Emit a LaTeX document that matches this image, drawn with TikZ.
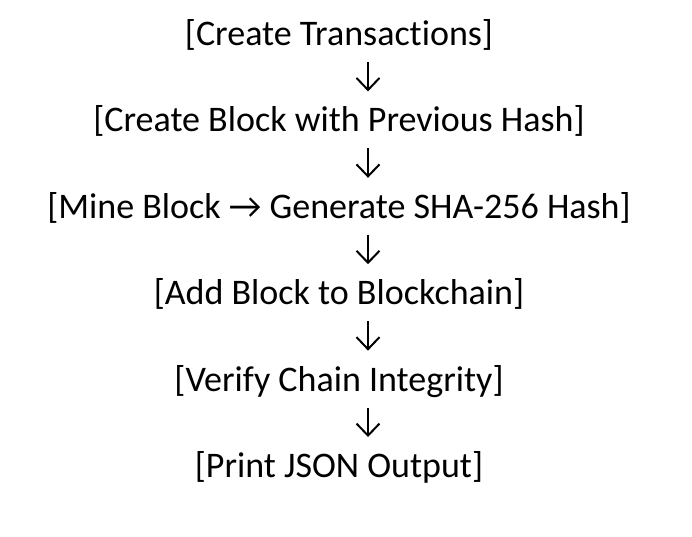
\documentclass[tikz,border=0pt]{standalone}
\usepackage{fontspec}
\setmainfont{Carlito}[RawFeature={-liga;-dlig;-clig;-calt;-hlig}]
\usetikzlibrary{arrows.meta}
\begin{document}
\begin{tikzpicture}[x=1pt,y=1pt,
  stepnode/.style={anchor=base, inner sep=0pt, font=\fontsize{36}{40}\selectfont},
  flow/.style={line width=2pt, -{Straight Barb[length=12pt,width=23pt,line width=2pt]}}]
\useasboundingbox (0,0) rectangle (692,-536);
\node[stepnode] (s1) at (339,-45.5){[Create Transactions]};
\node[stepnode] (s2) at (339,-131.9){[Create Block with Previous Hash]};
\node[stepnode] (s3) at (339,-218.3){[Mine Block → Generate SHA-256 Hash]};
\node[stepnode] (s4) at (339,-304.7){[Add Block to Blockchain]};
\node[stepnode] (s5) at (339,-391.1){[Verify Chain Integrity]};
\node[stepnode] (s6) at (339,-477.5){[Print JSON Output]};
\draw[flow] ([xshift=29,yshift=-16.5]s1.base) -- ([xshift=29,yshift=40.5]s2.base);
\draw[flow] ([xshift=29,yshift=-16.5]s2.base) -- ([xshift=29,yshift=40.5]s3.base);
\draw[flow] ([xshift=29,yshift=-16.5]s3.base) -- ([xshift=29,yshift=40.5]s4.base);
\draw[flow] ([xshift=29,yshift=-16.5]s4.base) -- ([xshift=29,yshift=40.5]s5.base);
\draw[flow] ([xshift=29,yshift=-16.5]s5.base) -- ([xshift=29,yshift=40.5]s6.base);
\end{tikzpicture}
\end{document}
